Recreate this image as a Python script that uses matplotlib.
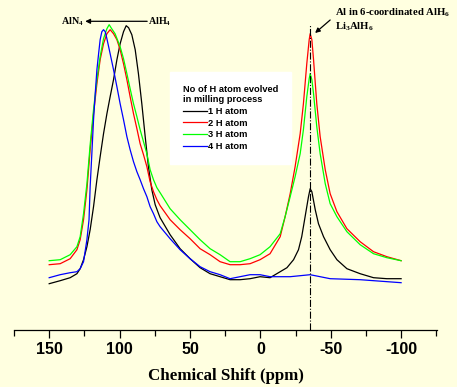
import matplotlib
matplotlib.use('Agg')
import matplotlib.pyplot as plt

# 27Al NMR spectra, intensity in arbitrary units
ppm_1h = [150, 142.2, 135.1, 130.3, 128, 125.6, 123.2, 120.9, 118.5, 116.1, 113.8, 111.4, 109,
          106.7, 104.3, 101.9, 99.6, 97.2, 95.3, 93.6, 91.3, 88.9, 86.6, 84.2, 81.8, 79.5, 77.1,
          74.7, 72.3, 71.2, 64.1, 57, 49.9, 42.8, 35.7, 28.6, 21.5, 14.4, 7.3, 0.2, -6.9, -14.1,
          -18.9, -23.6, -27.1, -29.4, -31.8, -34.2, -35.4, -36.6, -39, -41.3, -44.9, -49.6,
          -54.4, -61.5, -70.9, -80.4, -89.9, -100]
int_1h = [46, 49, 52, 56, 61, 70, 83, 100, 123, 150, 173, 196, 216,
          233, 250, 270, 286, 298, 304, 302, 295, 280, 256, 226, 193, 163, 140,
          125, 116, 112, 95, 81, 71, 62, 56, 53, 50, 50, 51, 53, 52, 58,
          62, 70, 80, 93, 113, 133, 141, 138, 120, 106, 93, 80,
          70, 61, 56, 52, 51, 51]

ppm_2h = [150, 142.2, 135.1, 130.3, 128, 125.6, 123.2, 120.9, 118.5, 116.1, 113.8, 111.4, 109,
          106.7, 104.3, 101.9, 99.6, 97.2, 94.8, 92.5, 90.1, 87.7, 85.4, 83, 80.6, 78.3, 75.9,
          73.5, 71.2, 64.1, 57, 49.9, 42.8, 35.7, 28.6, 21.5, 14.4, 7.3, 0.2, -6.9, -14.1, -17.6,
          -21.2, -24.7, -28.3, -30.6, -33, -34.7, -35.4, -36.6, -37.8, -40.1, -42.5, -46.1,
          -49.6, -54.4, -61.5, -70.9, -80.4, -89.9, -100]
int_2h = [65, 66, 71, 80, 90, 110, 140, 180, 216, 246, 270, 286, 296,
          300, 296, 290, 280, 266, 250, 233, 216, 201, 186, 175, 163, 148, 138,
          130, 124, 110, 100, 91, 81, 75, 68, 65, 65, 66, 70, 76, 93, 113,
          136, 163, 196, 226, 266, 290, 296, 290, 270, 226, 193, 160,
          136, 118, 101, 88, 78, 73, 69]

ppm_3h = [150, 142.2, 135.1, 130.3, 128, 125.6, 123.2, 120.9, 118.5, 116.1, 113.8, 111.4, 109,
          107.4, 105.6, 103.2, 99.6, 97.2, 94.8, 92.5, 90.1, 87.7, 85.4, 83, 80.6, 78.3, 75.9,
          73.5, 71.2, 64.1, 57, 49.9, 42.8, 35.7, 28.6, 21.5, 14.4, 7.3, 0.2, -6.9, -14.1, -17.6,
          -21.2, -24.7, -28.3, -30.6, -33, -34.7, -35.4, -36.6, -37.8, -40.1, -42.5, -46.1,
          -49.6, -54.4, -61.5, -70.9, -80.4, -89.9, -100]
int_3h = [69, 70, 75, 83, 93, 116, 146, 185, 220, 250, 273, 291, 301,
          305, 301, 296, 283, 271, 256, 241, 226, 213, 200, 188, 176, 160, 150,
          142, 137, 121, 110, 100, 90, 81, 75, 68, 68, 71, 75, 83, 96, 113,
          133, 153, 176, 200, 233, 251, 256, 250, 236, 203, 176, 146,
          126, 113, 98, 85, 76, 72, 69]

ppm_4h = [150, 142.2, 135.1, 130.3, 128, 125.6, 123.2, 121.7, 120.9, 119.7, 118.5, 117.3, 116.1,
          114.9, 113.8, 112.6, 111.4, 110.2, 109, 106.7, 104.3, 101.9, 99.6, 97.2, 94.8, 92.5,
          90.1, 87.7, 85.4, 83, 80.6, 78.3, 75.9, 73.5, 71.2, 64.1, 57, 49.9, 42.8, 35.7, 28.6,
          21.5, 14.4, 7.3, 0.2, -6.9, -14.1, -21.2, -28.3, -35.4, -49.6, -70.9, -100]
int_4h = [52, 55, 57, 58, 61, 68, 90, 110, 143, 176, 210, 236, 260,
          276, 290, 298, 300, 298, 291, 276, 260, 243, 226, 210, 193, 180,
          168, 158, 150, 141, 133, 123, 116, 108, 103, 91, 80, 71, 63, 58, 55,
          51, 53, 55, 55, 53, 53, 53, 54, 55, 51, 50, 47]

labels = ['1 H atom', '2 H atom', '3 H atom', '4 H atom']
colors = ['black', '#ff0000', '#00ff00', '#0000ff']
alh6_ppm = -35
xticks = [150, 100, 50, 0, -50, -100]

plt.rcParams['axes.unicode_minus'] = False
plt.rcParams['mathtext.fontset'] = 'custom'
plt.rcParams['mathtext.rm'] = 'Liberation Serif:bold'
plt.rcParams['mathtext.it'] = 'Liberation Serif:bold'
plt.rcParams['mathtext.bf'] = 'Liberation Serif:bold'

bg = '#ffffe0'
fig = plt.figure(figsize=(4.57, 3.87), dpi=100, facecolor=bg)
ax = fig.add_axes([14 / 457, (387 - 329.7) / 387, 423 / 457, 329.7 / 387])
ax.set_facecolor(bg)

series = [(ppm_1h, int_1h), (ppm_2h, int_2h), (ppm_3h, int_3h), (ppm_4h, int_4h)]
for (x, y), lab, c in zip(series, labels, colors):
    ax.plot(x, y, color=c, lw=0.9, label=lab)

# marker line at the AlH6 peak
ax.plot([alh6_ppm, alh6_ppm], [0, 305], color='black', ls='-.', lw=0.8)

ax.set_xlim(175, -125.5)
ax.set_ylim(0, 329.7)
for s in ['left', 'right', 'top']:
    ax.spines[s].set_visible(False)
ax.spines['bottom'].set_linewidth(0.9)
ax.set_yticks([])
ax.set_xticks(xticks)
ax.set_xticks([175, 125, 75, 25, -25, -75, -125], minor=True)
ax.tick_params(axis='x', which='major', length=6, width=0.9, pad=3)
ax.tick_params(axis='x', which='minor', length=4, width=0.9)
for t in ax.get_xticklabels():
    t.set_fontfamily('Liberation Sans')
    t.set_fontweight('bold')
    t.set_fontsize(11.5)
ax.set_xlabel('Chemical Shift (ppm)', fontfamily='Liberation Serif', fontweight='bold',
              fontsize=12.2, labelpad=8)

# annotations
ann = dict(fontfamily='Liberation Serif', fontweight='bold', fontsize=7.2)
ann2 = dict(fontfamily='Liberation Serif', fontweight='bold', fontsize=7.7)
ax.annotate('', xy=(124.4, 308.4), xytext=(80.4, 308.4),
            arrowprops=dict(arrowstyle='-|>', color='black', lw=0.9, mutation_scale=7,
                            shrinkA=0, shrinkB=0))
ax.text(125.5, 308.4, 'AlN$_4$', ha='right', va='center', **ann)
ax.text(79.5, 308.4, 'AlH$_4$', ha='left', va='center', **ann)
ax.annotate('', xy=(-38.9, 296.7), xytext=(-49.6, 309.7),
            arrowprops=dict(arrowstyle='-|>', color='black', lw=0.9, mutation_scale=7,
                            shrinkA=0, shrinkB=0))
ax.text(-53.3, 316.7, 'Al in 6-coordinated AlH$_6$', ha='left', va='center', **ann2)
ax.text(-53.3, 302.5, 'Li$_3$AlH$_6$', ha='left', va='center', **ann2)

leg = ax.legend(title='No of H atom evolved\nin milling process', loc='upper left',
                bbox_to_anchor=(156 / 423, 1 - 72 / 329.7), alignment='left',
                prop={'family': 'Liberation Sans', 'weight': 'bold', 'size': 6.7},
                title_fontproperties={'family': 'Liberation Sans', 'weight': 'bold', 'size': 6.7},
                frameon=True, fancybox=False, edgecolor='white', facecolor='white', framealpha=1,
                handlelength=2.6, handletextpad=0.1, labelspacing=0.28, borderpad=1.4,
                borderaxespad=0)

fig.savefig('out.png', dpi=100, facecolor=bg)
